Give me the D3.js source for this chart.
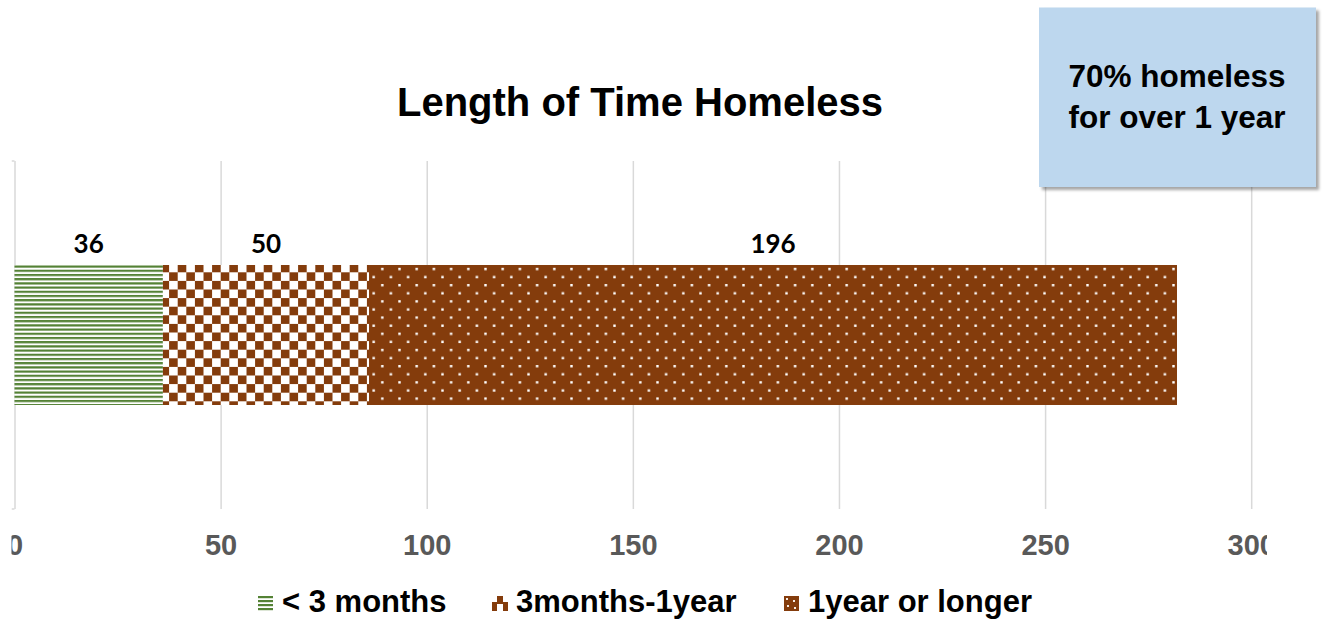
<!DOCTYPE html>
<html>
<head>
<meta charset="utf-8">
<script src="https://cdn.jsdelivr.net/npm/d3@7"></script>
<style>
  html, body { margin: 0; padding: 0; background: #fff; }
  svg { display: block; }
</style>
</head>
<body>
<svg id="chart" width="1326" height="620"></svg>
<script>
// Chart data
const categories = ["< 3 months", "3months-1year", "1year or longer"];
const values = [36, 50, 196];
const xTicks = [0, 50, 100, 150, 200, 250, 300];
const rowLabel = ["Length"];
const titleText = "Length of Time Homeless";
const noteLines = ["70% homeless", "for over 1 year"];

const svg = d3.select("#chart");
const defs = svg.append("defs");

const GREEN = "#548235";
const BROWN = "#843C0C";
const FONT = "'Liberation Sans', Arial, sans-serif";

// Fill patterns for the three segments
const stripes = defs.append("pattern").attr("id", "pat-stripes")
  .attr("patternUnits", "userSpaceOnUse").attr("width", 10).attr("height", 4.2)
  .attr("y", 265.5);
stripes.append("rect").attr("width", 10).attr("height", 4.2).attr("fill", "#fff");
stripes.append("rect").attr("width", 10).attr("height", 2.2).attr("fill", GREEN);

const cs = 8.6;
const checker = defs.append("pattern").attr("id", "pat-checker")
  .attr("patternUnits", "userSpaceOnUse").attr("width", cs * 2).attr("height", cs * 2)
  .attr("x", 160.5).attr("y", 263.7);
checker.append("rect").attr("width", cs * 2).attr("height", cs * 2).attr("fill", "#fff");
checker.append("rect").attr("width", cs).attr("height", cs).attr("fill", BROWN);
checker.append("rect").attr("x", cs).attr("y", cs).attr("width", cs).attr("height", cs).attr("fill", BROWN);

const dots = defs.append("pattern").attr("id", "pat-dots")
  .attr("patternUnits", "userSpaceOnUse").attr("width", 17.2).attr("height", 16.2)
  .attr("x", 369.4).attr("y", 264.95);
dots.append("rect").attr("width", 17.2).attr("height", 16.2).attr("fill", BROWN);
[[12.9, 4.05], [4.3, 12.15]].forEach(([cx, cy]) => {
  dots.append("rect").attr("x", cx - 1.2).attr("y", cy - 1.2).attr("width", 2.4).attr("height", 2.4)
    .attr("fill", "#ffffff");
});

const fills = ["url(#pat-stripes)", "url(#pat-checker)", "url(#pat-dots)"];

// Drop shadow for the callout box
const shadow = defs.append("filter").attr("id", "shadow")
  .attr("x", "-10%").attr("y", "-10%").attr("width", "130%").attr("height", "130%");
shadow.append("feDropShadow").attr("dx", 3).attr("dy", 3).attr("stdDeviation", 1.6)
  .attr("flood-color", "#000").attr("flood-opacity", 0.35);

// Plot area is clipped on both sides
defs.append("clipPath").attr("id", "plot-clip")
  .append("rect").attr("x", 11.5).attr("y", 0).attr("width", 1267 - 11.5).attr("height", 580);

// Scales
const x = d3.scaleLinear().domain([0, 300]).range([14.5, 1251.2]);
const y = d3.scaleBand().domain(rowLabel).range([161, 509]).paddingInner(0).paddingOuter(0.743);

const starts = [0, ...d3.cumsum(values)].slice(0, values.length);
const segments = categories.map((c, i) => ({ name: c, value: values[i], start: starts[i], end: starts[i] + values[i], fill: fills[i] }));

const plot = svg.append("g").attr("clip-path", "url(#plot-clip)");

// Vertical gridlines and tick labels via d3 axis
const axis = d3.axisBottom(x).tickValues(xTicks).tickSize(509 - 161).tickPadding(0).tickFormat(d3.format("d"));
const axisG = plot.append("g").attr("transform", "translate(0,161)").call(axis);
axisG.select(".domain").remove();
axisG.selectAll(".tick line").attr("stroke", "#d9d9d9").attr("stroke-width", 1.5);
axisG.selectAll(".tick text")
  .attr("y", 394).attr("dy", 0)
  .attr("fill", "#595959")
  .attr("font-family", FONT).attr("font-weight", "bold").attr("font-size", 29);

// small corner marks at the ends of the zero line
plot.append("line").attr("x1", 11.5).attr("x2", x(0)).attr("y1", 161).attr("y2", 161).attr("stroke", "#d9d9d9").attr("stroke-width", 1.5);
plot.append("line").attr("x1", 11.5).attr("x2", x(0)).attr("y1", 509).attr("y2", 509).attr("stroke", "#d9d9d9").attr("stroke-width", 1.5);

// Stacked bar segments
plot.selectAll("rect.seg").data(segments).join("rect")
  .attr("class", "seg")
  .attr("x", d => x(d.start))
  .attr("y", y(rowLabel[0]))
  .attr("width", d => x(d.end) - x(d.start))
  .attr("height", y.bandwidth())
  .attr("fill", d => d.fill);

// Value labels above each segment
plot.selectAll("text.val").data(segments).join("text")
  .attr("class", "val")
  .attr("x", d => (x(d.start) + x(d.end)) / 2)
  .attr("y", y(rowLabel[0]) - 12)
  .attr("text-anchor", "middle")
  .attr("font-family", "Lato, 'Open Sans', sans-serif")
  .attr("font-weight", "bold").attr("font-size", 26).attr("fill", "#000")
  .text(d => d.value);

// Title
svg.append("text")
  .attr("x", 640).attr("y", 116)
  .attr("text-anchor", "middle")
  .attr("font-family", FONT).attr("font-weight", "bold").attr("font-size", 40)
  .attr("fill", "#000")
  .text(titleText);

// Callout box
const box = svg.append("g");
box.append("rect").attr("x", 1039).attr("y", 7.5).attr("width", 277).attr("height", 179.5)
  .attr("fill", "#BDD7EE").attr("filter", "url(#shadow)");
box.selectAll("text").data(noteLines).join("text")
  .attr("x", 1177).attr("y", (d, i) => 87 + i * 41)
  .attr("text-anchor", "middle")
  .attr("font-family", FONT).attr("font-weight", "bold").attr("font-size", 31.5)
  .attr("fill", "#000")
  .text(d => d);

// Legend
const legendX = [258, 492, 784];
const textX = [282, 516, 808];
const leg = svg.append("g");
// stripes icon
const i0 = leg.append("g").attr("transform", `translate(${legendX[0]},596)`);
[0, 4, 8, 12].forEach(dy => i0.append("rect").attr("x", 0).attr("y", dy).attr("width", 15).attr("height", 2.2).attr("fill", GREEN));
// checker icon
const i1 = leg.append("g").attr("transform", `translate(${legendX[1]},596)`);
i1.append("rect").attr("x", 5).attr("y", 0).attr("width", 6).attr("height", 6).attr("fill", BROWN);
i1.append("rect").attr("x", 0).attr("y", 6).attr("width", 16).attr("height", 2).attr("fill", BROWN);
i1.append("rect").attr("x", 0).attr("y", 6).attr("width", 5).attr("height", 9).attr("fill", BROWN);
i1.append("rect").attr("x", 11).attr("y", 6).attr("width", 5).attr("height", 9).attr("fill", BROWN);
// dotted icon
const i2 = leg.append("g").attr("transform", `translate(${legendX[2]},596)`);
i2.append("rect").attr("width", 15).attr("height", 15).attr("fill", BROWN);
[[3, 3], [10, 5], [4, 10], [11, 12]].forEach(([dx, dy]) =>
  i2.append("rect").attr("x", dx - 1).attr("y", dy - 1).attr("width", 2).attr("height", 2).attr("fill", "#f6ece4"));

leg.selectAll("text").data(categories).join("text")
  .attr("x", (d, i) => textX[i]).attr("y", 612)
  .attr("font-family", FONT).attr("font-weight", "bold").attr("font-size", 31)
  .attr("fill", "#000")
  .text(d => d);
</script>
</body>
</html>
